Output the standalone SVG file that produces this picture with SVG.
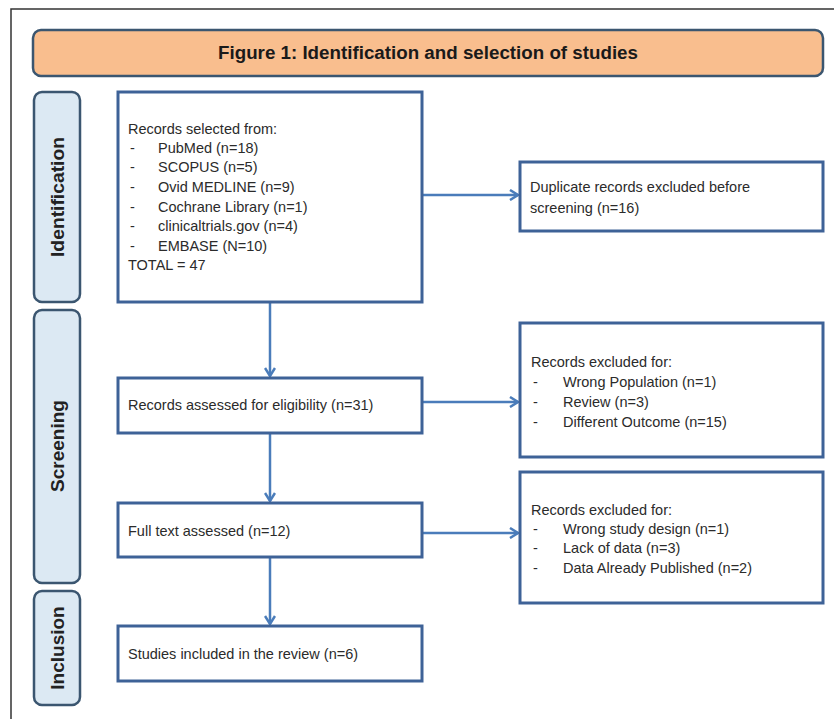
<svg xmlns="http://www.w3.org/2000/svg" width="834" height="719" viewBox="0 0 834 719">
<style>
.frame{stroke:#333;stroke-width:1.5;fill:none}
.title{fill:#F9BE8E;stroke:#3B5670;stroke-width:2.5}
.side{fill:#DCE9F3;stroke:#3B5670;stroke-width:2.5}
.box{fill:#fff;stroke:#3E6297;stroke-width:3}
.conn{stroke:#4A7CBA;stroke-width:2.5;fill:none}
text{font-family:"Liberation Sans",Arial,sans-serif;fill:#2b2b2b}
.t{font-size:14.5px}
.st{font-size:19px;font-weight:bold;fill:#222}
.tt{font-size:18px;font-weight:bold;fill:#1a1a1a}
</style>
<defs>
<marker id="ah" markerWidth="12" markerHeight="12" refX="10" refY="6" orient="auto" markerUnits="userSpaceOnUse">
<path d="M2,1 L10,6 L2,11" fill="none" stroke="#4A7CBA" stroke-width="2.5"/>
</marker>
</defs>
<rect width="834" height="719" fill="#fff"/>
<path class="frame" d="M11,719 V9 H834"/>

<g id="title">
<rect class="title" x="33" y="30" width="790" height="46" rx="8"/>
<text class="tt" x="428" y="59" text-anchor="middle" textLength="420" lengthAdjust="spacingAndGlyphs">Figure 1: Identification and selection of studies</text>
</g>

<g id="identification">
<rect class="side" x="34" y="92" width="46" height="210" rx="8"/>
<text class="st" transform="translate(64,197) rotate(-90)" text-anchor="middle" textLength="120" lengthAdjust="spacingAndGlyphs">Identification</text>
</g>
<g id="screening">
<rect class="side" x="34" y="310" width="46" height="273" rx="8"/>
<text class="st" transform="translate(64,446) rotate(-90)" text-anchor="middle">Screening</text>
</g>
<g id="inclusion">
<rect class="side" x="34" y="591" width="46" height="114" rx="8"/>
<text class="st" transform="translate(64,648) rotate(-90)" text-anchor="middle">Inclusion</text>
</g>

<g id="connectors">
<line class="conn" x1="270" y1="302" x2="270" y2="376" marker-end="url(#ah)"/>
<line class="conn" x1="270" y1="433" x2="270" y2="501" marker-end="url(#ah)"/>
<line class="conn" x1="270" y1="557" x2="270" y2="624" marker-end="url(#ah)"/>
<line class="conn" x1="422" y1="195" x2="518" y2="195" marker-end="url(#ah)"/>
<line class="conn" x1="422" y1="402" x2="518" y2="402" marker-end="url(#ah)"/>
<line class="conn" x1="422" y1="533" x2="518" y2="533" marker-end="url(#ah)"/>
</g>

<g id="records-selected">
<rect class="box" x="118" y="92" width="304" height="210"/>
<text class="t" x="128" y="134">Records selected from:</text>
<text class="t" x="130" y="153">-</text><text class="t" x="158" y="153">PubMed  (n=18)</text>
<text class="t" x="130" y="172">-</text><text class="t" x="158" y="172">SCOPUS (n=5)</text>
<text class="t" x="130" y="192">-</text><text class="t" x="158" y="192">Ovid MEDLINE (n=9)</text>
<text class="t" x="130" y="212">-</text><text class="t" x="158" y="212">Cochrane Library (n=1)</text>
<text class="t" x="130" y="231">-</text><text class="t" x="158" y="231">clinicaltrials.gov (n=4)</text>
<text class="t" x="130" y="251">-</text><text class="t" x="158" y="251">EMBASE (N=10)</text>
<text class="t" x="128" y="270">TOTAL = 47</text>
</g>

<g id="duplicates">
<rect class="box" x="520" y="162" width="303" height="69"/>
<text class="t" x="530" y="192">Duplicate records excluded before</text>
<text class="t" x="530" y="213">screening (n=16)</text>
</g>

<g id="assessed">
<rect class="box" x="118" y="378" width="304" height="55"/>
<text class="t" x="128" y="410">Records assessed for eligibility (n=31)</text>
</g>

<g id="excluded1">
<rect class="box" x="520" y="323" width="303" height="134"/>
<text class="t" x="531" y="367">Records excluded for:</text>
<text class="t" x="533" y="387">-</text><text class="t" x="563" y="387">Wrong Population (n=1)</text>
<text class="t" x="533" y="407">-</text><text class="t" x="563" y="407">Review (n=3)</text>
<text class="t" x="533" y="427">-</text><text class="t" x="563" y="427">Different Outcome (n=15)</text>
</g>

<g id="fulltext">
<rect class="box" x="118" y="503" width="304" height="54"/>
<text class="t" x="128" y="536">Full text assessed (n=12)</text>
</g>

<g id="excluded2">
<rect class="box" x="520" y="472" width="303" height="131"/>
<text class="t" x="531" y="515">Records excluded for:</text>
<text class="t" x="533" y="534">-</text><text class="t" x="563" y="534">Wrong study design (n=1)</text>
<text class="t" x="533" y="553">-</text><text class="t" x="563" y="553">Lack of data (n=3)</text>
<text class="t" x="533" y="573">-</text><text class="t" x="563" y="573">Data Already Published (n=2)</text>
</g>

<g id="included">
<rect class="box" x="118" y="626" width="304" height="55"/>
<text class="t" x="128" y="659">Studies included in the review (n=6)</text>
</g>
</svg>
